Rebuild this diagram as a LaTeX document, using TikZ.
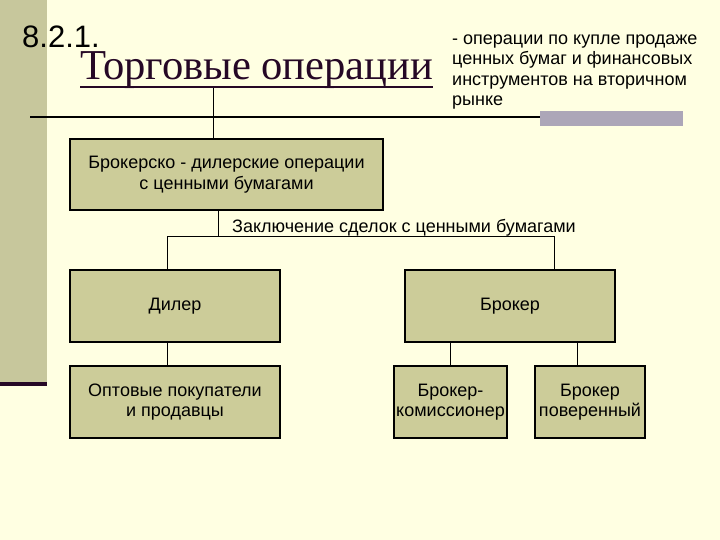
\documentclass[tikz,border=0pt]{standalone}
\usepackage{fontspec}
\setmainfont{Liberation Sans}
\newfontfamily\titlefont{Liberation Serif}
\definecolor{slidebg}{RGB}{255,255,226}
\definecolor{khaki}{RGB}{204,204,153}
\definecolor{stripe}{RGB}{199,199,156}
\definecolor{plum}{RGB}{38,8,38}
\definecolor{barcol}{RGB}{172,166,184}
\begin{document}
\begin{tikzpicture}[x=1pt,y=-1pt,font=\fontsize{18}{20.5}\selectfont,
  opbox/.style={draw=black,line width=1.2pt,fill=khaki,align=center,inner sep=0pt},
  link/.style={line width=1pt}]
  % slide background
  \fill[slidebg] (0,0) rectangle (720,540);
  \useasboundingbox (0,0) rectangle (720,540);
  \fill[stripe] (0,0) rectangle (47,382);
  \fill[plum] (0,382) rectangle (47,386);
  \draw[line width=2pt] (30,117) -- (540,117);
  \fill[barcol] (540,111) rectangle (683,126);
  % heading
  \node[anchor=base west, inner sep=0pt, font=\fontsize{31}{31}\selectfont] (num) at (22,48) {8.2.1.};
  \node[anchor=base west, inner sep=0pt, text=plum, font=\titlefont\fontsize{42.6}{42.6}\selectfont] (title) at (80,80) {Торговые операции};
  \draw[plum, line width=2.5pt] ([yshift=-7pt]title.base west) -- ([yshift=-7pt]title.base east);
  \node[anchor=base west, inner sep=0pt, align=left] (defn) at (452,106)
    {- операции по купле продаже\\ценных бумаг и финансовых\\инструментов на вторичном\\рынке};
  % boxes
  \node[opbox, minimum width=313pt, minimum height=71pt] (brd) at (226.5,174.5) {Брокерско - дилерские операции\\с ценными бумагами};
  \node[opbox, minimum width=210pt, minimum height=72pt] (dlr) at (175,306) {Дилер};
  \node[opbox, minimum width=210pt, minimum height=72pt] (brk) at (510,306) {Брокер};
  \node[opbox, minimum width=210pt, minimum height=72pt] (opt) at (175,402) {Оптовые покупатели\\и продавцы};
  \node[opbox, minimum width=113pt, minimum height=72pt] (kom) at (450.5,402) {Брокер-\\комиссионер};
  \node[opbox, minimum width=110pt, minimum height=72pt] (pov) at (590,402) {Брокер\\поверенный};
  \node[anchor=base west, inner sep=0pt] (deal) at (232,233) {Заключение сделок с ценными бумагами};
  % connectors
  \coordinate (stub) at (213,88);
  \coordinate (split) at (218,236);
  \coordinate (dlrin) at (167,236);
  \coordinate (brkin) at (554,236);
  \draw[link] (stub) -- (stub |- brd.north);
  \draw[link] (brd.south -| split) -- (split);
  \draw[link] (dlr.north -| dlrin) -- (dlrin) -- (brkin) -- (brk.north -| brkin);
  \draw[link] (dlr.south -| dlrin) -- (opt.north -| dlrin);
  \draw[link] (kom.north) -- (kom.north |- brk.south);
  \draw[link] ([xshift=-13pt]pov.north) -- ([xshift=-13pt]pov.north |- brk.south);
\end{tikzpicture}
\end{document}
